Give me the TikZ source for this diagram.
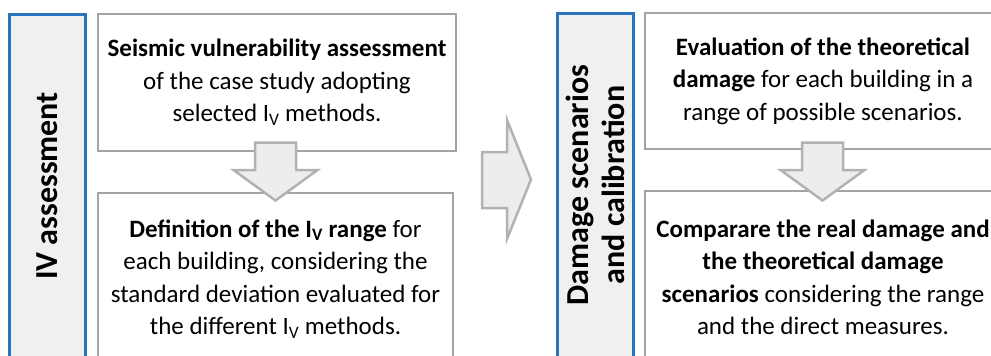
\documentclass[tikz,border=0pt]{standalone}
\usepackage{fontspec}
\setmainfont{Carlito}
\newlength{\du}
\setlength{\du}{1pt}
\definecolor{barblue}{rgb}{0.16,0.46,0.74}
\definecolor{barfill}{rgb}{0.94,0.94,0.94}
\definecolor{boxgray}{rgb}{0.64,0.64,0.64}
\definecolor{arrowfill}{rgb}{0.93,0.93,0.93}
\definecolor{arrowgray}{rgb}{0.70,0.70,0.70}
\tikzset{
  phase/.style={draw=barblue, fill=barfill, line width=3\du, inner sep=0pt, rotate=90,
    align=center, font=\fontsize{32}{36}\selectfont\bfseries},
  stepbox/.style={draw=boxgray, fill=white, line width=2\du, inner sep=0pt,
    align=center, font=\fontsize{25}{32.5}\selectfont},
  blockarrow/.style={draw=arrowgray, fill=arrowfill, line width=2.5\du, line join=miter},
}
% down block arrow, centred at x = #1
\newcommand{\downblock}[1]{%
\draw[blockarrow] (#1\du-20.5\du,142.5\du)--(#1\du+20.5\du,142.5\du)--(#1\du+20.5\du,170\du)
  --(#1\du+42\du,170\du)--(#1\du,200.5\du)--(#1\du-42\du,170\du)--(#1\du-20.5\du,170\du)--cycle;}

\begin{document}
\begin{tikzpicture}
\pgftransformxscale{1.000000}
\pgftransformyscale{-1.000000}
\useasboundingbox (0\du,0\du) rectangle (991\du,356\du);
\clip (0\du,0\du) rectangle (991\du,356\du);
% phase bars
\node[phase, minimum width=344\du, minimum height=76\du] (ivbar) at (47\du,186\du){IV assessment};
\node[phase, minimum width=344\du, minimum height=76\du] (dmgbar) at (595\du,185\du){Damage scenarios\\and calibration};
% left column
\node[stepbox, minimum width=358\du, minimum height=137\du] (seismic) at (277\du,82.5\du)
  {\textbf{Seismic vulnerability assessment}\\of the case study adopting\\selected I\textsubscript{V} methods.};
\node[stepbox, minimum width=355\du, minimum height=172\du] (ivrange) at (275.5\du,279\du)
  {\textbf{Definition of the I\textsubscript{V} range} for\\each building, considering the\\standard deviation evaluated for\\the different I\textsubscript{V} methods.};
% right column
\node[stepbox, minimum width=356\du, minimum height=136\du] (theodmg) at (823\du,81\du)
  {\textbf{Evaluation of the theoretical}\\\textbf{damage} for each building in a\\range of possible scenarios.};
\node[stepbox, minimum width=356\du, minimum height=173\du] (compare) at (823\du,277.5\du)
  {\textbf{Comparare the real damage and}\\\textbf{the theoretical damage}\\\textbf{scenarios} considering the range\\and the direct measures.};
% arrows
\downblock{275.5}
\downblock{822.5}
\draw[blockarrow] (482\du,152\du)--(507\du,152\du)--(507\du,120\du)--(531\du,179.5\du)
  --(507\du,239\du)--(507\du,208\du)--(482\du,208\du)--cycle;
\end{tikzpicture}
\end{document}
